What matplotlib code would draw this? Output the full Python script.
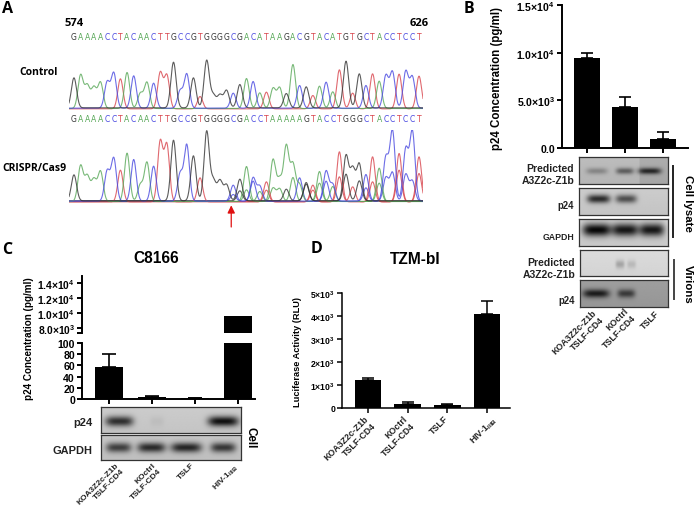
import numpy as np
import matplotlib
matplotlib.use('Agg')
import matplotlib.pyplot as plt

plt.rcParams['font.family'] = ['Liberation Sans', 'DejaVu Sans']
plt.rcParams['font.weight'] = 'bold'
plt.rcParams['mathtext.fontset'] = 'custom'
plt.rcParams['mathtext.bf'] = 'Liberation Sans:bold'
plt.rcParams['mathtext.rm'] = 'Liberation Sans:bold'
plt.rcParams['mathtext.default'] = 'bf'

W, H = 696, 510

# panel A, sequencing traces
ctrl_seq = 'GAAAACCTACAACTTGCCGTGGGGCGACATAAGACGTACATGTGCTACCTCCT'
cas9_seq = 'GAAAACCTACAACTTGCCGTGGGGCGACCTAAAAAGTACCTGGGCTACCTCCT'
ctrl_heights = [90, 100, 68, 62, 78, 78, 105, 90, 108, 97, 45, 78, 75, 108, 100, 137, 52, 102,
                90, 37, 142, 37, 38, 52, 45, 70, 90, 80, 47, 50, 60, 62, 43, 132, 68, 63,
                40, 67, 78, 50, 117, 140, 47, 102, 68, 105, 82, 97, 108, 104, 110, 93, 98]
cas9_heights = [78, 107, 75, 65, 90, 90, 128, 95, 145, 125, 50, 117, 105, 180, 170, 182, 82, 168,
                135, 72, 208, 60, 60, 48, 48, 65, 105, 70, 45, 60, 125, 65, 165, 110, 50, 55,
                50, 90, 90, 50, 150, 135, 95, 110, 80, 135, 100, 130, 210, 145, 155, 208, 135]
cas9_alt_heights = [0, 0, 0, 0, 0, 0, 0, 0, 0, 0, 0, 0, 0, 0, 0, 0, 0, 0,
                    0, 0, 0, 0, 0, 0, 20, 30, 35, 60, 30, 35, 40, 38, 35, 72, 70, 50,
                    35, 55, 60, 45, 75, 80, 45, 60, 40, 60, 55, 70, 85, 95, 80, 60, 85]
pos_first = '574'
pos_last = '626'
base_colors = {'T': '#d8444c', 'A': '#58a858', 'C': '#4848e0', 'G': '#333333'}

# panel B
b_values = [9400, 4300, 900]
b_errors = [600, 1080, 800]
b_yticks = [0, 5000, 10000, 15000]
b_yticklabels = ['0.0', r'$\mathbf{5.0{\times}10^{3}}$', r'$\mathbf{1.0{\times}10^{4}}$', r'$\mathbf{1.5{\times}10^{4}}$']
b_labels = ['KOA3Z2c-Z1b\nTSLF-CD4', 'KOctrl\nTSLF-CD4', 'TSLF']

# panel C
c_values = [58, 3, 1, 9600]
c_errors = [23, 3, 1.5, 0]
c_low_ticks = [0, 20, 40, 60, 80, 100]
c_up_ticks = [8000, 10000, 12000, 14000]
c_up_labels = [r'$\mathbf{8.0{\times}10^{3}}$', r'$\mathbf{1.0{\times}10^{4}}$',
               r'$\mathbf{1.2{\times}10^{4}}$', r'$\mathbf{1.4{\times}10^{4}}$']
c_labels = ['KOA3Z2c-Z1b\nTSLF-CD4', 'KOctrl\nTSLF-CD4', 'TSLF', r'HIV-1$_{\mathbf{IIIB}}$']

# panel D
d_values = [1200, 190, 120, 4100]
d_errors = [90, 50, 70, 550]
d_yticks = [0, 1000, 2000, 3000, 4000, 5000]
d_yticklabels = ['0', r'$\mathbf{1{\times}10^{3}}$', r'$\mathbf{2{\times}10^{3}}$', r'$\mathbf{3{\times}10^{3}}$',
                 r'$\mathbf{4{\times}10^{3}}$', r'$\mathbf{5{\times}10^{3}}$']

# blots: (lane centre, half width, strength)
b_blot_a3 = [(0.2, 0.12, 0.2), (0.515, 0.1, 0.36), (0.795, 0.13, 0.52)]
b_blot_p24 = [(0.22, 0.13, 0.62), (0.53, 0.12, 0.48)]
b_blot_gapdh = [(0.2, 0.16, 0.78), (0.52, 0.15, 0.72), (0.82, 0.14, 0.72)]
b_blot_v_a3 = [(0.45, 0.05, 0.2), (0.58, 0.05, 0.12)]
b_blot_v_p24 = [(0.18, 0.15, 0.5), (0.52, 0.1, 0.38)]
c_blot_p24 = [(0.13, 0.1, 0.6), (0.4, 0.05, 0.04), (0.875, 0.11, 0.72)]
c_blot_gapdh = [(0.125, 0.09, 0.52), (0.36, 0.1, 0.6), (0.61, 0.11, 0.62), (0.875, 0.09, 0.55)]


fig = plt.figure(figsize=(W / 100, H / 100), dpi=100, facecolor='white')


def px_axes(left, top, right, bottom):
    return fig.add_axes([left / W, 1 - bottom / H, (right - left) / W, (bottom - top) / H], facecolor='none')


def px_text(x, y, s, **kw):
    kw.setdefault('ha', 'center')
    kw.setdefault('va', 'center')
    return fig.text(x / W, 1 - y / H, s, **kw)


def trace_axes(top, bottom, ymin, ymax):
    ax = px_axes(69, top, 423, bottom)
    ax.set_xlim(-0.75, 52.6)
    ax.set_ylim(ymin, ymax)
    ax.axis('off')
    return ax


def draw_trace(ax, seq, heights, lw=0.8):
    grid = np.linspace(-0.75, 52.6, 1500)
    for k, (base, color) in enumerate(base_colors.items()):
        y = np.zeros_like(grid)
        for i, (b, h) in enumerate(zip(seq, heights)):
            if b == base and h > 0:
                y += h * np.exp(-((grid - i) / 0.56) ** 2)
        ax.plot(grid, y + 0.5 + k, color=color, lw=lw, alpha=0.8, clip_on=True)


def draw_letters(ax, seq, y):
    for i, b in enumerate(seq):
        ax.text(i, y, b, color=base_colors[b], fontsize=5.5, ha='center', va='center',
                family='DejaVu Sans', weight='normal', clip_on=False)


def style_axis(ax, tick_fs, lw=1.4):
    for side in ['top', 'right']:
        ax.spines[side].set_visible(False)
    ax.spines['left'].set_linewidth(lw)
    ax.spines['bottom'].set_linewidth(lw)
    ax.tick_params(axis='both', width=lw, length=3.5, labelsize=tick_fs, pad=1.5)


def blot(left, top, right, bottom, bg, bands, yc, band_h=0.16, dark_from=None):
    ax = px_axes(left, top, right, bottom)
    xx, yy = np.meshgrid(np.linspace(0, 1, 200), np.linspace(0, 1, 60))
    img = np.full_like(xx, bg) - 0.03 * yy
    if dark_from is not None:
        img = img - 0.06 * (xx > dark_from)
    for c, w, s in bands:
        img = img - s * np.exp(-((xx - c) / w) ** 4) * np.exp(-((yy - yc) / band_h) ** 2)
    ax.imshow(np.clip(img, 0, 1), cmap='gray', vmin=0, vmax=1, extent=[0, 1, 1, 0], aspect='auto')
    ax.set_xticks([])
    ax.set_yticks([])
    for s in ax.spines.values():
        s.set_linewidth(0.9)
        s.set_color('#333333')
    return ax


def rot_labels(places, labels, fs=6.4):
    for (x, y), s in zip(places, labels):
        px_text(x, y, s, rotation=45, ha='right', va='top', rotation_mode='anchor', fontsize=fs,
                color='#222222', linespacing=1.15, multialignment='right')


# --- A ---
ax_ctrl = trace_axes(60, 112, -6, 150)
draw_trace(ax_ctrl, ctrl_seq, ctrl_heights)
draw_letters(ax_ctrl, ctrl_seq, 216)
ax_ctrl.text(0, 261, pos_first, fontsize=8, ha='center', va='center', family='Open Sans', weight='bold', clip_on=False)
ax_ctrl.text(52, 261, pos_last, fontsize=8, ha='center', va='center', family='Open Sans', weight='bold', clip_on=False)

ax_cas9 = trace_axes(131.33, 205, -6, 215)
draw_trace(ax_cas9, ctrl_seq, cas9_alt_heights)
draw_trace(ax_cas9, cas9_seq, cas9_heights)
draw_letters(ax_cas9, cas9_seq, 249)
ax_cas9.annotate('', xy=(23.7, -10), xytext=(23.7, -75), annotation_clip=False,
                 arrowprops=dict(arrowstyle='-|>,head_width=0.22,head_length=0.45', color='#e01010', lw=0.9,
                                 shrinkA=0, shrinkB=0))

for x, y, s in [(7, 9, 'A'), (469, 9, 'B'), (7, 250, 'C'), (317, 249, 'D')]:
    px_text(x, y, s, fontsize=11.5, family='Open Sans', weight='bold')
px_text(39, 73, 'Control', fontsize=7.5, family='Open Sans', weight='bold')
px_text(34, 169, 'CRISPR/Cas9', fontsize=7.5, family='Open Sans', weight='bold')

# --- B ---
ax_b = px_axes(562, 6, 688, 149)
ax_b.bar(range(3), b_values, width=0.66, color='black')
ax_b.errorbar(range(3), b_values, yerr=[[0] * 3, b_errors], fmt='none', ecolor='black', elinewidth=1.2, capsize=4.5, capthick=1.2)
ax_b.set_xlim(-0.658, 2.658)
ax_b.set_ylim(0, 15000)
ax_b.set_xticks(range(3))
ax_b.set_xticklabels([])
ax_b.set_yticks(b_yticks)
ax_b.set_yticklabels(b_yticklabels)
style_axis(ax_b, 7.6)
px_text(497, 78, 'p24 Concentration (pg/ml)', rotation=90, fontsize=8.3)

blot(579, 158, 668, 185, 0.74, b_blot_a3, 0.52, 0.12, dark_from=0.68)
blot(579, 189, 668, 216, 0.8, b_blot_p24, 0.4)
blot(579, 220, 668, 247, 0.82, b_blot_gapdh, 0.4, 0.24)
blot(580, 251, 668, 277, 0.86, b_blot_v_a3, 0.55)
blot(580, 281, 668, 308, 0.62, b_blot_v_p24, 0.5)

px_text(574, 175, 'Predicted\nA3Z2c-Z1b', ha='right', fontsize=7.5, color='#222222', linespacing=1.15)
px_text(574, 206, 'p24', ha='right', fontsize=6.9, color='#222222')
px_text(574, 238, 'GAPDH', ha='right', fontsize=6.3, color='#222222')
px_text(575, 269, 'Predicted\nA3Z2c-Z1b', ha='right', fontsize=7.5, color='#222222', linespacing=1.15)
px_text(575, 301, 'p24', ha='right', fontsize=6.9, color='#222222')

fig.add_artist(plt.Line2D([673 / W, 673 / W], [1 - 167 / H, 1 - 238 / H], color='#222222', lw=1.4))
fig.add_artist(plt.Line2D([674 / W, 674 / W], [1 - 261 / H, 1 - 300 / H], color='#444444', lw=1.4))
px_text(688, 203, 'Cell lysate', rotation=-90, fontsize=8.2)
px_text(688, 284, 'Virions', rotation=-90, fontsize=8.2)

rot_labels([(592, 309), (624, 307), (655, 309)], b_labels)

# --- C ---
ax_cu = px_axes(82, 277, 255, 334)
ax_cu.bar(range(4), c_values, width=0.66, color='black')
ax_cu.set_xlim(-0.628, 3.395)
ax_cu.set_ylim(7333, 14933)
ax_cu.set_yticks([7333] + c_up_ticks)
ax_cu.set_yticklabels([''] + c_up_labels)
ax_cu.set_xticks([])
style_axis(ax_cu, 7.4)
ax_cu.spines['bottom'].set_visible(False)

ax_cl = px_axes(82, 344, 255, 400)
ax_cl.bar(range(4), c_values, width=0.66, color='black')
ax_cl.errorbar(range(3), c_values[:3], yerr=[[0] * 3, c_errors[:3]], fmt='none', ecolor='black',
               elinewidth=1.2, capsize=5, capthick=1.2)
ax_cl.set_xlim(-0.628, 3.395)
ax_cl.set_ylim(0, 100)
ax_cl.set_xticks(range(4))
ax_cl.set_xticklabels([])
ax_cl.set_yticks(c_low_ticks)
style_axis(ax_cl, 7.6)
px_text(29, 339, 'p24 Concentration (pg/ml)', rotation=90, fontsize=7.1)
px_text(156, 259, 'C8166', fontsize=11.2)

blot(101, 408, 241, 434, 0.8, c_blot_p24, 0.55, 0.2)
blot(101, 436, 241, 461, 0.78, c_blot_gapdh, 0.5, 0.2)
px_text(93, 423, 'p24', ha='right', fontsize=8, color='#222222')
px_text(93, 451, 'GAPDH', ha='right', fontsize=7.9, color='#222222')
px_text(251, 438, 'Cell', rotation=-90, fontsize=8.4)

rot_labels([(115, 462), (152, 462), (191, 462), (234, 463)], c_labels, fs=6.0)

# --- D ---
ax_d = px_axes(342, 294, 510, 409)
ax_d.bar(range(4), d_values, width=0.67, color='black')
ax_d.errorbar(range(4), d_values, yerr=[[0] * 4, d_errors], fmt='none', ecolor='black', elinewidth=1.1, capsize=4.5, capthick=1.1)
ax_d.set_xlim(-0.655, 3.58)
ax_d.set_ylim(0, 5000)
ax_d.set_xticks(range(4))
ax_d.set_xticklabels([])
ax_d.set_yticks(d_yticks)
ax_d.set_yticklabels(d_yticklabels)
style_axis(ax_d, 6.2, lw=1.1)
px_text(297, 352, 'Luciferase Activity (RLU)', rotation=90, fontsize=6.7)
px_text(415, 260, 'TZM-bI', fontsize=11.2)

rot_labels([(364, 415), (403, 415), (444, 414), (492, 415)], c_labels)

fig.savefig('out.png', dpi=100)
